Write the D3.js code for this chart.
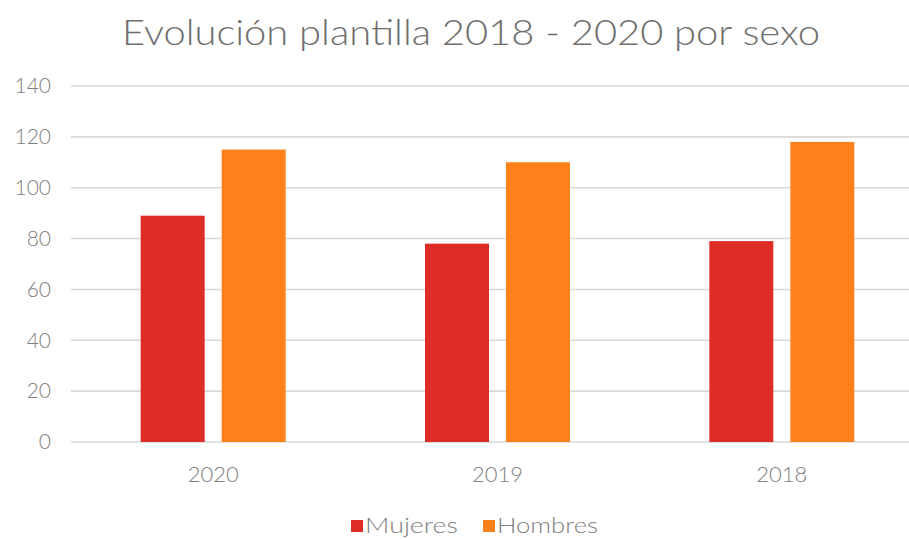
<!DOCTYPE html>
<html>
<head>
<meta charset="utf-8">
<script src="https://cdn.jsdelivr.net/npm/d3@7"></script>
<style>
  html, body { margin: 0; padding: 0; background: #fff; }
  svg { display: block; }
  text { font-family: "Lato", "DejaVu Sans", sans-serif; fill: #808080; }
</style>
</head>
<body>
<script>
// Plantilla por año y sexo
const years = ["2020", "2019", "2018"];
const mujeres = [89, 78, 79];
const hombres = [115, 110, 118];
const seriesNames = ["Mujeres", "Hombres"];
const seriesColors = ["#de2c27", "#fd801a"];
const yTicks = [0, 20, 40, 60, 80, 100, 120, 140];
const titleText = "Evolución plantilla 2018 - 2020 por sexo";

const W = 909, H = 539;
const svg = d3.select("body").append("svg").attr("width", W).attr("height", H);

const plot = { left: 71, right: 924, top: 86, bottom: 442 };

const x = d3.scaleBand().domain(years).range([plot.left, plot.right]);
const y = d3.scaleLinear().domain([0, 140]).range([plot.bottom, plot.top]);

// two bars per group with a small gap, centred in each band
const barW = 64, barGap = 17;
const xs = d3.scaleOrdinal().domain(seriesNames)
  .range([-(barW + barGap / 2), barGap / 2]);

// gridlines
svg.append("g").selectAll("line").data(yTicks).join("line")
  .attr("x1", plot.left).attr("x2", W)
  .attr("y1", d => y(d)).attr("y2", d => y(d))
  .attr("stroke", "#d9d9d9").attr("stroke-width", 1.6);

const tickFont = '"Lato", "DejaVu Sans", sans-serif';

// y axis labels
const yAxis = d3.axisLeft(y).tickValues(yTicks).tickSize(0).tickPadding(0);
const gy = svg.append("g").attr("transform", `translate(51,0)`).call(yAxis);
gy.select(".domain").remove();
gy.selectAll("text").attr("font-size", 21).style("fill", "#808080")
  .style("font-family", tickFont).style("font-weight", 300);

// x axis labels
const xAxis = d3.axisBottom(x).tickSize(0).tickPadding(0);
const gx = svg.append("g").attr("transform", `translate(0,${plot.bottom + 22})`).call(xAxis);
gx.select(".domain").remove();
gx.selectAll("text").attr("font-size", 22).attr("dy", "0.8em").style("fill", "#808080")
  .style("font-family", tickFont).style("font-weight", 300);

// bars
const rows = years.map((yr, i) => ({ year: yr, values: [mujeres[i], hombres[i]] }));
const groups = svg.append("g").selectAll("g").data(rows).join("g")
  .attr("transform", d => `translate(${x(d.year) + x.bandwidth() / 2},0)`);
groups.selectAll("rect").data(d => d.values.map((v, j) => ({ v, s: seriesNames[j], c: seriesColors[j] })))
  .join("rect")
  .attr("x", d => xs(d.s))
  .attr("width", barW)
  .attr("y", d => y(d.v))
  .attr("height", d => y(0) - y(d.v))
  .attr("fill", d => d.c);

// title
svg.append("text")
  .attr("x", 471).attr("y", 45)
  .attr("text-anchor", "middle")
  .attr("font-size", 35)
  .attr("textLength", 698).attr("lengthAdjust", "spacingAndGlyphs")
  .style("fill", "#6e6e6e").style("font-weight", 300)
  .text(titleText);

// legend
const legend = svg.append("g");
const legendItems = [
  { name: seriesNames[0], color: seriesColors[0], x: 351, w: 93 },
  { name: seriesNames[1], color: seriesColors[1], x: 483, w: 101 }
];
legendItems.forEach(it => {
  legend.append("rect").attr("x", it.x).attr("y", 520).attr("width", 12).attr("height", 12).attr("fill", it.color);
  legend.append("text").attr("x", it.x + 14).attr("y", 533)
    .attr("font-size", 21).attr("textLength", it.w).attr("lengthAdjust", "spacingAndGlyphs")
    .style("font-weight", 300)
    .text(it.name);
});
</script>
</body>
</html>
